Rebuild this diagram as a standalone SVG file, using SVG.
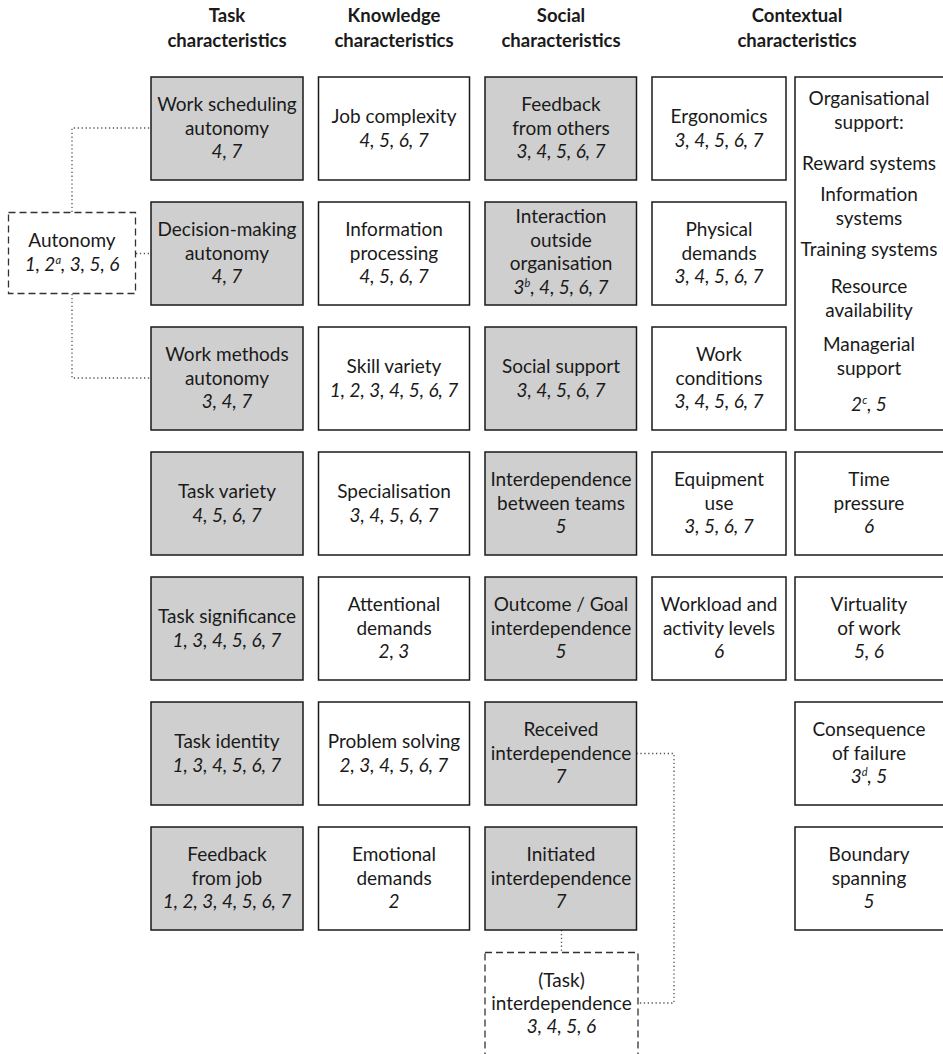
<svg xmlns="http://www.w3.org/2000/svg" width="943" height="1054" viewBox="0 0 943 1054">
  <style>
    text { font-family: Lato, "Liberation Sans", sans-serif; font-size: 19px; fill: #1a1a1a; text-anchor: middle; }
    .hd { font-weight: bold; font-size: 18.5px; }
    .num { font-style: italic; }
    .sup { font-size: 11px; }
    .box { stroke: #1a1a1a; stroke-width: 1.5; }
    .grey { fill: #cfcfcf; }
    .white { fill: #ffffff; }
    .dash { fill: #ffffff; stroke: #333333; stroke-width: 1.3; stroke-dasharray: 7 4; }
    .dot { fill: none; stroke: #555555; stroke-width: 1.3; stroke-dasharray: 1.3 2.6; }
  </style>

  <rect width="943" height="1054" fill="#ffffff"/>

  <!-- column headers -->
  <g id="headers">
    <text class="hd" x="227" y="22">Task</text>
    <text class="hd" x="227" y="47">characteristics</text>
    <text class="hd" x="394" y="22">Knowledge</text>
    <text class="hd" x="394" y="47">characteristics</text>
    <text class="hd" x="561" y="22">Social</text>
    <text class="hd" x="561" y="47">characteristics</text>
    <text class="hd" x="797" y="22">Contextual</text>
    <text class="hd" x="797" y="47">characteristics</text>
  </g>

  <!-- connectors -->
  <g id="connectors">
    <path class="dot" d="M72 212 V128 H151"/>
    <path class="dot" d="M136 253.5 H151"/>
    <path class="dot" d="M72 294 V378 H151"/>
    <path class="dot" d="M561.5 930 V952"/>
    <path class="dot" d="M636.5 753.5 H674 V1003 H638"/>
  </g>

  <!-- grouping nodes -->
  <g id="autonomy">
    <rect class="dash" x="8.5" y="212.5" width="127" height="81"/>
    <text x="72" y="247">Autonomy</text>
    <text class="num" x="72" y="271">1, 2<tspan class="sup" dy="-7">a</tspan><tspan dy="7">, 3, 5, 6</tspan></text>
  </g>
  <g id="task-interdependence">
    <rect class="dash" x="485" y="952.5" width="153" height="104"/>
    <text x="561.5" y="987">(Task)</text>
    <text x="561.5" y="1010">interdependence</text>
    <text class="num" x="561.5" y="1033">3, 4, 5, 6</text>
  </g>

  <!-- task characteristics -->
  <g id="work-scheduling-autonomy">
    <rect class="box grey" x="151" y="77" width="152" height="103"/>
    <text x="227" y="111">Work scheduling</text>
    <text x="227" y="134.5">autonomy</text>
    <text class="num" x="227" y="158">4, 7</text>
  </g>
  <g id="decision-making-autonomy">
    <rect class="box grey" x="151" y="202" width="152" height="103"/>
    <text x="227" y="236">Decision-making</text>
    <text x="227" y="259.5">autonomy</text>
    <text class="num" x="227" y="283">4, 7</text>
  </g>
  <g id="work-methods-autonomy">
    <rect class="box grey" x="151" y="327" width="152" height="103"/>
    <text x="227" y="361">Work methods</text>
    <text x="227" y="384.5">autonomy</text>
    <text class="num" x="227" y="408">3, 4, 7</text>
  </g>
  <g id="task-variety">
    <rect class="box grey" x="151" y="452" width="152" height="103"/>
    <text x="227" y="498">Task variety</text>
    <text class="num" x="227" y="521.5">4, 5, 6, 7</text>
  </g>
  <g id="task-significance">
    <rect class="box grey" x="151" y="577" width="152" height="103"/>
    <text x="227" y="623">Task significance</text>
    <text class="num" x="227" y="646.5">1, 3, 4, 5, 6, 7</text>
  </g>
  <g id="task-identity">
    <rect class="box grey" x="151" y="702" width="152" height="103"/>
    <text x="227" y="748">Task identity</text>
    <text class="num" x="227" y="771.5">1, 3, 4, 5, 6, 7</text>
  </g>
  <g id="feedback-from-job">
    <rect class="box grey" x="151" y="827" width="152" height="103"/>
    <text x="227" y="861">Feedback</text>
    <text x="227" y="884.5">from job</text>
    <text class="num" x="227" y="908">1, 2, 3, 4, 5, 6, 7</text>
  </g>

  <!-- knowledge characteristics -->
  <g id="job-complexity">
    <rect class="box white" x="318.5" y="77" width="151" height="103"/>
    <text x="394" y="123">Job complexity</text>
    <text class="num" x="394" y="146.5">4, 5, 6, 7</text>
  </g>
  <g id="information-processing">
    <rect class="box white" x="318.5" y="202" width="151" height="103"/>
    <text x="394" y="236">Information</text>
    <text x="394" y="259.5">processing</text>
    <text class="num" x="394" y="283">4, 5, 6, 7</text>
  </g>
  <g id="skill-variety">
    <rect class="box white" x="318.5" y="327" width="151" height="103"/>
    <text x="394" y="373">Skill variety</text>
    <text class="num" x="394" y="396.5">1, 2, 3, 4, 5, 6, 7</text>
  </g>
  <g id="specialisation">
    <rect class="box white" x="318.5" y="452" width="151" height="103"/>
    <text x="394" y="498">Specialisation</text>
    <text class="num" x="394" y="521.5">3, 4, 5, 6, 7</text>
  </g>
  <g id="attentional-demands">
    <rect class="box white" x="318.5" y="577" width="151" height="103"/>
    <text x="394" y="611">Attentional</text>
    <text x="394" y="634.5">demands</text>
    <text class="num" x="394" y="658">2, 3</text>
  </g>
  <g id="problem-solving">
    <rect class="box white" x="318.5" y="702" width="151" height="103"/>
    <text x="394" y="748">Problem solving</text>
    <text class="num" x="394" y="771.5">2, 3, 4, 5, 6, 7</text>
  </g>
  <g id="emotional-demands">
    <rect class="box white" x="318.5" y="827" width="151" height="103"/>
    <text x="394" y="861">Emotional</text>
    <text x="394" y="884.5">demands</text>
    <text class="num" x="394" y="908">2</text>
  </g>

  <!-- social characteristics -->
  <g id="feedback-from-others">
    <rect class="box grey" x="485" y="77" width="151.5" height="103"/>
    <text x="561" y="111">Feedback</text>
    <text x="561" y="134.5">from others</text>
    <text class="num" x="561" y="158">3, 4, 5, 6, 7</text>
  </g>
  <g id="interaction-outside-organisation">
    <rect class="box grey" x="485" y="202" width="151.5" height="103"/>
    <text x="561" y="223">Interaction</text>
    <text x="561" y="246.5">outside</text>
    <text x="561" y="270">organisation</text>
    <text class="num" x="561" y="293.5">3<tspan class="sup" dy="-7">b</tspan><tspan dy="7">, 4, 5, 6, 7</tspan></text>
  </g>
  <g id="social-support">
    <rect class="box grey" x="485" y="327" width="151.5" height="103"/>
    <text x="561" y="373">Social support</text>
    <text class="num" x="561" y="396.5">3, 4, 5, 6, 7</text>
  </g>
  <g id="interdependence-between-teams">
    <rect class="box grey" x="485" y="452" width="151.5" height="103"/>
    <text x="561" y="486">Interdependence</text>
    <text x="561" y="509.5">between teams</text>
    <text class="num" x="561" y="533">5</text>
  </g>
  <g id="outcome-goal-interdependence">
    <rect class="box grey" x="485" y="577" width="151.5" height="103"/>
    <text x="561" y="611">Outcome / Goal</text>
    <text x="561" y="634.5">interdependence</text>
    <text class="num" x="561" y="658">5</text>
  </g>
  <g id="received-interdependence">
    <rect class="box grey" x="485" y="702" width="151.5" height="103"/>
    <text x="561" y="736">Received</text>
    <text x="561" y="759.5">interdependence</text>
    <text class="num" x="561" y="783">7</text>
  </g>
  <g id="initiated-interdependence">
    <rect class="box grey" x="485" y="827" width="151.5" height="103"/>
    <text x="561" y="861">Initiated</text>
    <text x="561" y="884.5">interdependence</text>
    <text class="num" x="561" y="908">7</text>
  </g>

  <!-- contextual characteristics -->
  <g id="ergonomics">
    <rect class="box white" x="652" y="77" width="134" height="103"/>
    <text x="719" y="123">Ergonomics</text>
    <text class="num" x="719" y="146.5">3, 4, 5, 6, 7</text>
  </g>
  <g id="physical-demands">
    <rect class="box white" x="652" y="202" width="134" height="103"/>
    <text x="719" y="236">Physical</text>
    <text x="719" y="259.5">demands</text>
    <text class="num" x="719" y="283">3, 4, 5, 6, 7</text>
  </g>
  <g id="work-conditions">
    <rect class="box white" x="652" y="327" width="134" height="103"/>
    <text x="719" y="361">Work</text>
    <text x="719" y="384.5">conditions</text>
    <text class="num" x="719" y="408">3, 4, 5, 6, 7</text>
  </g>
  <g id="equipment-use">
    <rect class="box white" x="652" y="452" width="134" height="103"/>
    <text x="719" y="486">Equipment</text>
    <text x="719" y="509.5">use</text>
    <text class="num" x="719" y="533">3, 5, 6, 7</text>
  </g>
  <g id="workload-activity-levels">
    <rect class="box white" x="652" y="577" width="134" height="103"/>
    <text x="719" y="611">Workload and</text>
    <text x="719" y="634.5">activity levels</text>
    <text class="num" x="719" y="658">6</text>
  </g>

  <g id="organisational-support">
    <rect class="box white" x="795" y="77" width="149" height="353"/>
    <text x="869" y="105">Organisational</text>
    <text x="869" y="129">support:</text>
    <text x="869" y="170">Reward systems</text>
    <text x="869" y="201">Information</text>
    <text x="869" y="225">systems</text>
    <text x="869" y="256">Training systems</text>
    <text x="869" y="293">Resource</text>
    <text x="869" y="317">availability</text>
    <text x="869" y="351">Managerial</text>
    <text x="869" y="375">support</text>
    <text class="num" x="869" y="411">2<tspan class="sup" dy="-7">c</tspan><tspan dy="7">, 5</tspan></text>
  </g>
  <g id="time-pressure">
    <rect class="box white" x="795" y="452" width="149" height="103"/>
    <text x="869" y="486">Time</text>
    <text x="869" y="509.5">pressure</text>
    <text class="num" x="869" y="533">6</text>
  </g>
  <g id="virtuality-of-work">
    <rect class="box white" x="795" y="577" width="149" height="103"/>
    <text x="869" y="611">Virtuality</text>
    <text x="869" y="634.5">of work</text>
    <text class="num" x="869" y="658">5, 6</text>
  </g>
  <g id="consequence-of-failure">
    <rect class="box white" x="795" y="702" width="149" height="103"/>
    <text x="869" y="736">Consequence</text>
    <text x="869" y="759.5">of failure</text>
    <text class="num" x="869" y="783">3<tspan class="sup" dy="-7">d</tspan><tspan dy="7">, 5</tspan></text>
  </g>
  <g id="boundary-spanning">
    <rect class="box white" x="795" y="827" width="149" height="103"/>
    <text x="869" y="861">Boundary</text>
    <text x="869" y="884.5">spanning</text>
    <text class="num" x="869" y="908">5</text>
  </g>
</svg>
